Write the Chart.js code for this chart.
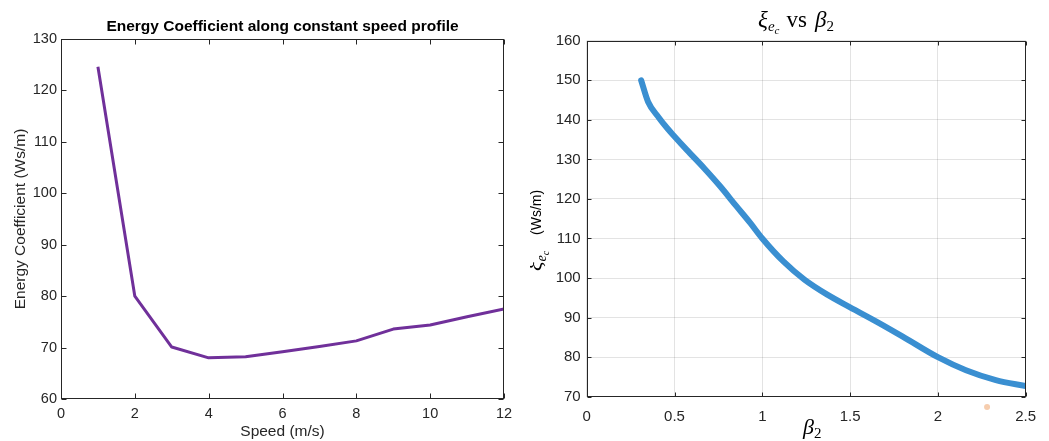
<!DOCTYPE html>
<html><head><meta charset="utf-8">
<script src="https://cdn.jsdelivr.net/npm/chart.js@4"></script>
<style>
html,body{margin:0;padding:0;background:#fff;}
#wrap{position:relative;width:1049px;height:441px;overflow:hidden;}
#c1{position:absolute;left:0;top:0;}
#c2{position:absolute;left:530px;top:0;}
</style></head><body>
<div id="wrap"><canvas id="c1" width="530" height="441"></canvas><canvas id="c2" width="519" height="441"></canvas></div>
<script>
// ---- Left chart data ----
const speeds = [1, 2, 3, 4, 5, 6, 7, 8, 9, 10, 11, 12];
const energyCoef = [124.6, 80.0, 70.1, 68.0, 68.2, 69.2, 70.2, 71.3, 73.6, 74.4, 76.0, 77.5];
const speedTicks = [0, 2, 4, 6, 8, 10, 12];
const energyTicks = [60, 70, 80, 90, 100, 110, 120, 130];

// ---- Right chart data ----
const beta2 = [0.31, 0.35, 0.41, 0.46, 0.50, 0.57, 0.67, 0.76, 0.85, 0.93, 1.00, 1.12, 1.24, 1.37, 1.50, 1.65, 1.80, 2.00, 2.16, 2.33, 2.50];
const xiEc = [150, 144.5, 140.6, 137.8, 135.8, 132.4, 127.7, 123.2, 118.3, 114.0, 110, 104.2, 99.6, 95.8, 92.6, 89.0, 85.2, 80, 76.7, 74.2, 72.7];
const betaTicks = [0, 0.5, 1, 1.5, 2, 2.5];
const xiTicks = [70, 80, 90, 100, 110, 120, 130, 140, 150, 160];
const strayBeta = [2.28];
const strayXi = [67.4];

const SANS = '"Liberation Sans", Arial, Helvetica, sans-serif';
const SERIF = '"Liberation Serif", "DejaVu Serif", serif';
const AXC = '#262626';

const boxPlugin = {
  id: 'box',
  afterDatasetsDraw(chart, args, o) {
    const {ctx, chartArea: a, scales: {x, y}} = chart;
    ctx.save();
    ctx.strokeStyle = o.color; ctx.lineWidth = 1;
    const L = Math.round(a.left) + 0.5, R = Math.round(a.right) - 0.5, T = Math.round(a.top) + 0.5, B = Math.round(a.bottom) - 0.5;
    ctx.strokeRect(L, T, R - L, B - T);
    ctx.beginPath();
    x.ticks.forEach(t => {
      const px = Math.round(x.getPixelForValue(t.value)) + 0.5;
      ctx.moveTo(px, B); ctx.lineTo(px, B - o.len);
      ctx.moveTo(px, T); ctx.lineTo(px, T + o.len);
    });
    y.ticks.forEach(t => {
      const py = Math.round(y.getPixelForValue(t.value)) + 0.5;
      ctx.moveTo(L, py); ctx.lineTo(L + o.len, py);
      ctx.moveTo(R, py); ctx.lineTo(R - o.len, py);
    });
    ctx.stroke();
    // stray points of hidden datasets drawn outside the area
    (o.outside || []).forEach(di => {
      const meta = chart.getDatasetMeta(di);
      const ds = chart.data.datasets[di];
      ctx.fillStyle = ds.pointBackgroundColor;
      meta.data.forEach(p => {
        ctx.beginPath(); ctx.arc(p.x, p.y, ds.pointRadius, 0, Math.PI * 2); ctx.fill();
      });
    });
    ctx.restore();
  }
};

function setTicks(arr) { return s => { s.ticks = arr.map(v => ({value: v})); }; }

new Chart(document.getElementById('c1'), {
  type: 'line',
  data: {
    datasets: [{
      data: speeds.map((v, i) => ({x: v, y: energyCoef[i]})),
      borderColor: '#70309a', borderWidth: 3, pointRadius: 0, tension: 0,
      borderJoinStyle: 'round', borderCapStyle: 'butt'
    }]
  },
  options: {
    responsive: false, animation: false, events: [],
    layout: {padding: {left: 0, right: 26, top: 0, bottom: 0}},
    plugins: {
      legend: {display: false}, tooltip: {enabled: false},
      title: {display: true, fullSize: false, text: 'Energy Coefficient along constant speed profile',
        color: '#000', font: {family: SANS, size: 15.5, weight: 'bold'}, padding: {top: 17.7, bottom: 2.7}},
      box: {color: AXC, len: 5}
    },
    scales: {
      x: {
        type: 'linear', min: 0, max: 12,
        afterBuildTicks: setTicks(speedTicks),
        afterFit: s => { s.height = 42; },
        grid: {display: false, drawTicks: false}, border: {display: false},
        ticks: {padding: 6, color: AXC, font: {family: SANS, size: 14.5}, maxRotation: 0},
        title: {display: true, text: 'Speed (m/s)', color: AXC, font: {family: SANS, size: 15.5}, padding: {top: 0, bottom: 0}}
      },
      y: {
        type: 'linear', min: 60, max: 130,
        afterBuildTicks: setTicks(energyTicks),
        afterFit: s => { s.width = 61; },
        grid: {display: false, drawTicks: false}, border: {display: false},
        ticks: {padding: 4, color: AXC, font: {family: SANS, size: 14.5}},
        title: {display: true, text: 'Energy Coefficient (Ws/m)', color: AXC, font: {family: SANS, size: 15.5}, padding: {top: 11.7, bottom: 0}}
      }
    }
  },
  plugins: [boxPlugin]
});

function drawRuns(ctx, runs, x, y) {
  let cx = x;
  runs.forEach(r => {
    ctx.font = r.f;
    ctx.fillText(r.t, cx, y + (r.dy || 0));
    cx += ctx.measureText(r.t).width + (r.gap || 0);
  });
  return cx - x;
}
function runsWidth(ctx, runs) {
  let w = 0;
  runs.forEach(r => { ctx.font = r.f; w += ctx.measureText(r.t).width + (r.gap || 0); });
  return w;
}

const mathPlugin = {
  id: 'mathText',
  afterDraw(chart) {
    const ctx = chart.ctx;
    ctx.save();
    ctx.fillStyle = '#000';
    ctx.textBaseline = 'alphabetic';
    ctx.textAlign = 'left';
    // title
    const titleRuns = [
      {t: '\u03BE', f: `italic 23px ${SERIF}`},
      {t: 'e', f: `italic 15px ${SERIF}`, dy: 4},
      {t: 'c', f: `italic 11px ${SERIF}`, dy: 7, gap: 7},
      {t: 'vs', f: `23px ${SERIF}`, gap: 8},
      {t: '\u03B2', f: `italic 23px ${SERIF}`},
      {t: '2', f: `15px ${SERIF}`, dy: 4}
    ];
    const tw = runsWidth(ctx, titleRuns);
    drawRuns(ctx, titleRuns, 266 - tw / 2, 27);
    // x title
    drawRuns(ctx, [
      {t: '\u03B2', f: `italic 22px ${SERIF}`},
      {t: '2', f: `15px ${SERIF}`, dy: 4}
    ], 273, 434);
    // y title (rotated)
    ctx.translate(12, 271);
    ctx.rotate(-Math.PI / 2);
    drawRuns(ctx, [
      {t: '\u03BE', f: `italic 22px ${SERIF}`},
      {t: 'e', f: `italic 14px ${SERIF}`, dy: 4},
      {t: 'c', f: `italic 10px ${SERIF}`, dy: 7, gap: 16},
      {t: '(Ws/m)', f: `14px ${SANS}`, dy: -1}
    ], 0, 0);
    ctx.restore();
  }
};

new Chart(document.getElementById('c2'), {
  type: 'line',
  data: {
    datasets: [{
      data: beta2.map((v, i) => ({x: v, y: xiEc[i]})),
      borderColor: '#3a8fd1', borderWidth: 6, pointRadius: 0,
      cubicInterpolationMode: 'monotone', borderCapStyle: 'round', borderJoinStyle: 'round'
    }, {
      data: strayBeta.map((v, i) => ({x: v, y: strayXi[i]})),
      showLine: false, pointRadius: 3, pointBorderWidth: 0,
      pointBackgroundColor: '#f6cdae', clip: false
    }]
  },
  options: {
    responsive: false, animation: false, events: [],
    layout: {padding: {left: 0, right: 23.3, top: 40.7, bottom: 0}},
    plugins: {
      legend: {display: false}, tooltip: {enabled: false}, title: {display: false},
      box: {color: AXC, len: 4, outside: [1]}
    },
    scales: {
      x: {
        type: 'linear', min: 0, max: 2.5,
        afterBuildTicks: setTicks(betaTicks),
        afterFit: s => { s.height = 44.3; },
        grid: {color: 'rgba(0,0,0,0.11)', drawTicks: false}, border: {display: false},
        ticks: {padding: 11, color: AXC, font: {family: SANS, size: 15}, maxRotation: 0, callback: v => String(v)},
        title: {display: false}
      },
      y: {
        type: 'linear', min: 70, max: 160,
        afterBuildTicks: setTicks(xiTicks),
        afterFit: s => { s.width = 56.7; },
        grid: {color: 'rgba(0,0,0,0.11)', drawTicks: false}, border: {display: false},
        ticks: {padding: 6, color: AXC, font: {family: SANS, size: 15}, callback: v => String(v)},
        title: {display: false}
      }
    }
  },
  plugins: [boxPlugin, mathPlugin]
});
</script>
</body></html>
